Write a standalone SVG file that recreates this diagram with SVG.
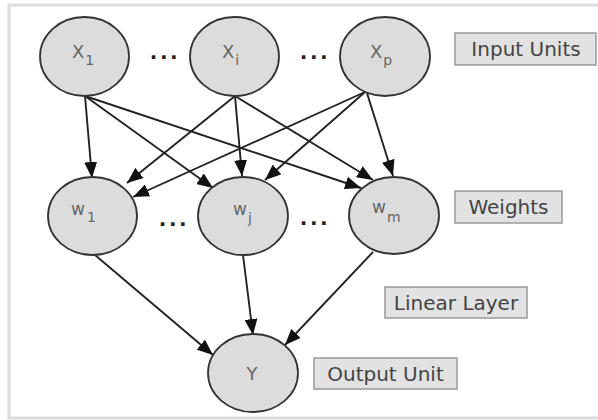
<svg xmlns="http://www.w3.org/2000/svg" width="598" height="420" viewBox="0 0 598 420">
<defs>
<style>
.node{fill:#dcdcdc;stroke:#333;stroke-width:1.8}
.lbl{font-family:"DejaVu Sans",Verdana,sans-serif;fill:#666}
.box{fill:#e2e2e2;stroke:#999;stroke-width:1.5}
.btxt{font-family:"DejaVu Sans",Verdana,sans-serif;font-size:20px;fill:#444;text-anchor:middle}
.dots{font-family:"DejaVu Sans",Verdana,sans-serif;font-size:20px;font-weight:bold;fill:#222;text-anchor:middle;letter-spacing:2.5px}
.edge{stroke:#222;stroke-width:1.9;fill:none;marker-end:url(#ah)}
.frame{stroke:#dcdcdc;stroke-width:3;fill:none}
</style>
<marker id="ah" markerUnits="userSpaceOnUse" markerWidth="16" markerHeight="13" refX="16" refY="6.5" orient="auto">
<path d="M0,0 L16,6.5 L0,13 z" fill="#111"/>
</marker>
</defs>
<rect width="598" height="420" fill="#fff"/>
<path class="frame" d="M598,5 H9 V418 H598"/>

<g id="connectors">
<line class="edge" x1="85" y1="96" x2="92" y2="178"/>
<line class="edge" x1="85" y1="96" x2="213" y2="188"/>
<line class="edge" x1="85" y1="96" x2="361" y2="188"/>
<line class="edge" x1="235" y1="96" x2="127" y2="183"/>
<line class="edge" x1="235" y1="96" x2="242" y2="176"/>
<line class="edge" x1="235" y1="96" x2="373" y2="180"/>
<line class="edge" x1="365" y1="92" x2="133" y2="197"/>
<line class="edge" x1="365" y1="92" x2="265" y2="180"/>
<line class="edge" x1="367" y1="93" x2="393" y2="176"/>
<line class="edge" x1="95" y1="255" x2="213" y2="355"/>
<line class="edge" x1="243" y1="255" x2="253" y2="335"/>
<line class="edge" x1="373" y1="252" x2="285" y2="345"/>
</g>

<g id="x1"><ellipse class="node" cx="84.5" cy="56.5" rx="44.5" ry="39.5"/><text class="lbl" x="72" y="58" font-size="18">X<tspan font-size="14" dx="1" dy="7">1</tspan></text></g>
<g id="xi"><ellipse class="node" cx="234.5" cy="56.5" rx="44.5" ry="39.5"/><text class="lbl" x="222" y="58" font-size="18">X<tspan font-size="14" dx="1" dy="7">i</tspan></text></g>
<g id="xp"><ellipse class="node" cx="385" cy="56.5" rx="45" ry="39.5"/><text class="lbl" x="370" y="58" font-size="18">X<tspan font-size="14" dx="1" dy="7">p</tspan></text></g>

<g id="w1"><ellipse class="node" cx="92.5" cy="216" rx="44.5" ry="39"/><text class="lbl" x="71" y="215" font-size="17">w<tspan font-size="14" dx="2" dy="7">1</tspan></text></g>
<g id="wj"><ellipse class="node" cx="243" cy="216" rx="45" ry="39"/><text class="lbl" x="233" y="215" font-size="17">w<tspan font-size="14" dx="1" dy="8">j</tspan></text></g>
<g id="wm"><ellipse class="node" cx="394" cy="215.5" rx="45" ry="38.5"/><text class="lbl" x="372" y="213" font-size="17">w<tspan font-size="14" dx="1" dy="9">m</tspan></text></g>

<g id="y"><ellipse class="node" cx="253" cy="373" rx="45" ry="39"/><text class="lbl" x="252" y="380" font-size="18" text-anchor="middle">Y</text></g>

<g id="dots">
<text class="dots" x="165" y="59">...</text>
<text class="dots" x="315" y="59">...</text>
<text class="dots" x="174" y="226">...</text>
<text class="dots" x="315" y="225">...</text>
</g>

<g id="input-units"><rect class="box" x="455" y="33" width="141" height="32"/><text class="btxt" x="526" y="56">Input Units</text></g>
<g id="weights"><rect class="box" x="455" y="191" width="107" height="32"/><text class="btxt" x="508.5" y="214">Weights</text></g>
<g id="linear-layer"><rect class="box" x="385" y="287" width="142" height="31"/><text class="btxt" x="456" y="310">Linear Layer</text></g>
<g id="output-unit"><rect class="box" x="314" y="358" width="143" height="31"/><text class="btxt" x="385.5" y="381">Output Unit</text></g>
</svg>
